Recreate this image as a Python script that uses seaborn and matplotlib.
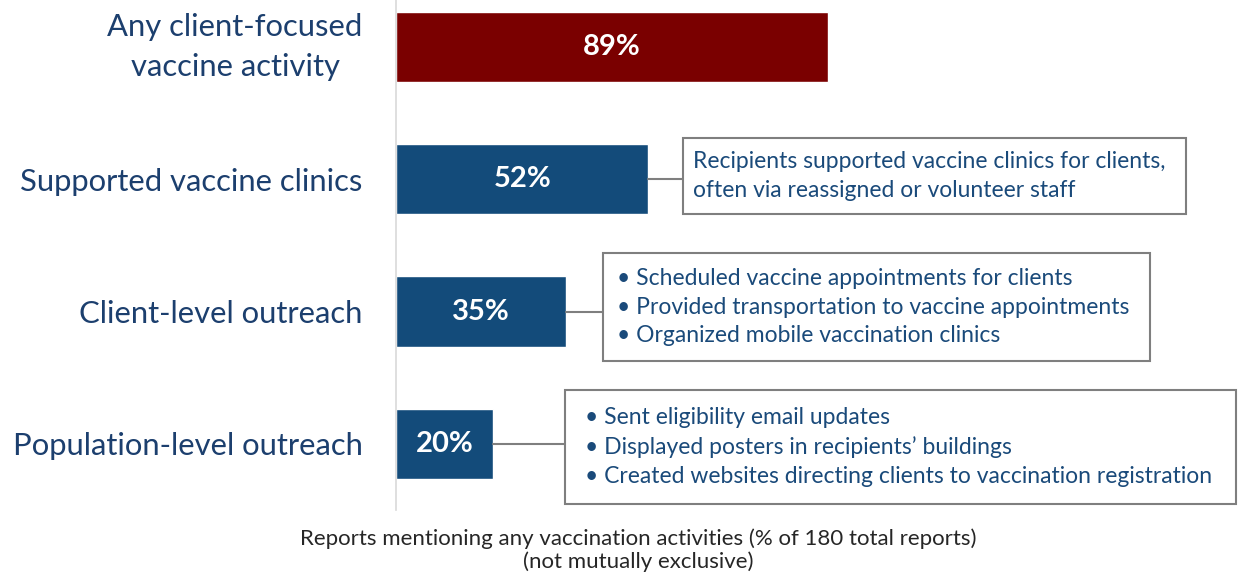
import matplotlib
matplotlib.use("Agg")
import matplotlib.pyplot as plt
import seaborn as sns
import pandas as pd
from matplotlib.patches import Rectangle

sns.set_theme(style="white")
plt.rcParams['font.family'] = ['Lato', 'DejaVu Sans']

# data
categories = ["Any client-focused\nvaccine activity", "Supported vaccine clinics",
              "Client-level outreach", "Population-level outreach"]
values = [89, 52, 35, 20]
bar_colors = ["#7a0000", "#134b7a", "#134b7a", "#134b7a"]
notes = [
    None,
    "Recipients supported vaccine clinics for clients,\noften via reassigned or volunteer staff",
    "\u2022 Scheduled vaccine appointments for clients\n\u2022 Provided transportation to vaccine appointments\n\u2022 Organized mobile vaccination clinics",
    "\u2022 Sent eligibility email updates\n\u2022 Displayed posters in recipients\u2019 buildings\n\u2022 Created websites directing clients to vaccination registration",
]
# note box layout (x start, x end in % units, height / y shift in category units, text pad)
box_x0 = [None, 59.1, 42.6, 34.8]
box_x1 = [None, 162.8, 155.3, 173.0]
box_h = [None, 0.575, 0.81, 0.86]
box_dy = [None, -0.023, -0.034, 0.023]
box_pad = [None, 2.1, 2.9, 4.1]
xlabel = "Reports mentioning any vaccination activities (% of 180 total reports)\n(not mutually exclusive)"

df = pd.DataFrame({"category": categories, "value": values})

label_color = "#1c3f6e"
note_color = "#1a4a7a"
grey = "#7f7f7f"

fig = plt.figure(figsize=(12.39, 5.72), dpi=100)
ax = fig.add_axes([396 / 1239, 62 / 572, 1 - 396 / 1239, 510 / 572])

sns.barplot(data=df, x="value", y="category", hue="category", palette=bar_colors,
            legend=False, width=0.53, ax=ax, saturation=1)

ax.set_xlim(0, 173.7)
ax.set_ylim(3.5, -0.355)
ax.set_xlabel("")
ax.set_ylabel("")
ax.set_xticks([])
for s in ["top", "right", "bottom"]:
    ax.spines[s].set_visible(False)
ax.spines["left"].set_color("#d9d9d9")
ax.spines["left"].set_linewidth(1.2)
ax.tick_params(axis="y", length=0, pad=24, labelsize=22.3, labelcolor=label_color)
for lab in ax.get_yticklabels():
    lab.set_multialignment("center")
    lab.set_linespacing(1.55)
    if "\n" in lab.get_text():
        lab.set_verticalalignment("center")

for i, v in enumerate(values):
    ax.text(v / 2, i, f"{v}%", ha="center", va="center", color="white",
            fontsize=21, fontweight="bold")
    if notes[i] is None:
        continue
    x0, x1, h = box_x0[i], box_x1[i], box_h[i]
    yc = i + box_dy[i]
    ax.plot([v, x0], [i, i], color=grey, lw=1.5, zorder=1)
    ax.add_patch(Rectangle((x0, yc - h / 2), x1 - x0, h, facecolor="white",
                           edgecolor=grey, lw=1.5, zorder=2, clip_on=False))
    ax.text(x0 + box_pad[i], yc, notes[i], ha="left", va="center", color=note_color,
            fontsize=16.5, linespacing=1.45, zorder=3)

fig.text(638 / 1239, 1 - 550 / 572, xlabel, ha="center", va="center",
         color="#262626", fontsize=16, linespacing=1.15)

fig.savefig("out.png", dpi=100)
